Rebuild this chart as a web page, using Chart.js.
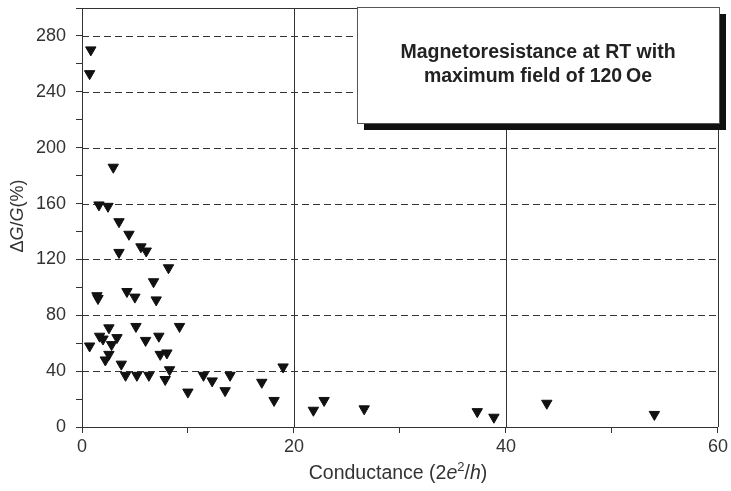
<!DOCTYPE html>
<html>
<head>
<meta charset="utf-8">
<script src="https://cdn.jsdelivr.net/npm/chart.js@4.4.1/dist/chart.umd.min.js"></script>
<style>
  html, body { margin: 0; padding: 0; background: #fff; }
  #wrap { width: 731px; height: 491px; }
</style>
</head>
<body>
<div id="wrap"><canvas id="mr-chart"></canvas></div>
<script>
// Conductance (2e^2/h) vs magnetoresistance dG/G (%)
const conductance = [
  0.83, 0.72, 2.95, 1.60, 2.45, 3.49, 4.43, 3.49, 5.56, 6.06,
  8.16, 6.75, 1.41, 1.51, 4.24, 4.99, 7.00, 9.20, 5.09, 2.54,
  1.66, 1.98, 3.30, 0.72, 2.79, 6.00, 7.25, 2.54, 2.20, 7.38,
  8.01, 3.71, 4.11, 5.18, 6.31, 8.26, 7.85, 9.99, 11.46, 12.28,
  13.97, 13.50, 16.96, 18.12, 18.97, 21.83, 22.84, 26.62, 37.29, 38.86,
  43.85, 54.0
];
const delta_g = [
  270, 253, 186, 159, 158, 147, 138, 125, 129, 126,
  114, 104, 94, 92, 97, 93, 91, 72, 72, 71,
  65, 63, 64, 58, 59, 62, 65, 52, 48, 52,
  53, 45, 37, 37, 37, 41, 34, 25, 37, 33,
  37, 26, 32, 19, 43, 12, 19, 13, 11, 7,
  17, 9
];

const x_labels = [0, 20, 40, 60];
const y_labels = [0, 40, 80, 120, 160, 200, 240, 280];
const x_grid = [20, 40];
const y_grid = [40, 80, 120, 160, 200, 240, 280];
const box_lines = ["Magnetoresistance at RT with", "maximum field of 120\u2009Oe"];

const font_family = "'Liberation Sans', Arial, sans-serif";
const ink = "#333";

// draw a run of [text, italic, superscript] pieces centred on 0,0
function drawRuns(ctx, runs, size) {
  const fontFor = r => (r[1] ? "italic " : "") + (r[2] ? Math.round(size * 0.65) : size) + "px " + font_family;
  let total = 0;
  runs.forEach(r => { ctx.font = fontFor(r); total += ctx.measureText(r[0]).width; });
  let cx = -total / 2;
  runs.forEach(r => {
    ctx.font = fontFor(r);
    ctx.fillText(r[0], cx, r[2] ? -size * 0.35 : 0);
    cx += ctx.measureText(r[0]).width;
  });
}

const frame_plugin = {
  id: "frame",
  beforeDatasetsDraw(chart) {
    const { ctx, chartArea: a, scales: { x, y } } = chart;
    ctx.save();
    ctx.strokeStyle = ink;
    ctx.lineWidth = 1;
    ctx.setLineDash([7, 4]);
    y_grid.forEach(v => {
      const py = Math.round(y.getPixelForValue(v)) + 0.5;
      ctx.beginPath(); ctx.moveTo(a.left, py); ctx.lineTo(a.right, py); ctx.stroke();
    });
    ctx.setLineDash([]);
    x_grid.forEach(v => {
      const px = Math.round(x.getPixelForValue(v)) + 0.5;
      ctx.beginPath(); ctx.moveTo(px, a.top); ctx.lineTo(px, a.bottom); ctx.stroke();
    });
    // top and right edges of the frame
    ctx.beginPath();
    ctx.moveTo(a.left, Math.round(a.top) + 0.5);
    ctx.lineTo(Math.round(a.right) + 0.5, Math.round(a.top) + 0.5);
    ctx.lineTo(Math.round(a.right) + 0.5, a.bottom);
    ctx.stroke();
    ctx.restore();
  },
  afterDatasetsDraw(chart) {
    const { ctx, chartArea: a } = chart;
    ctx.save();
    // annotation box with drop shadow
    const bx = a.left + 275, by = a.top - 1, bw = 362, bh = 116;
    ctx.fillStyle = "#111";
    ctx.fillRect(bx + 7, by + 7, bw, bh);
    ctx.fillStyle = "#fff";
    ctx.fillRect(bx, by, bw, bh);
    ctx.strokeStyle = "#555";
    ctx.lineWidth = 1;
    ctx.strokeRect(bx + 0.5, by + 0.5, bw, bh);
    ctx.fillStyle = "#222";
    ctx.font = "bold 19.5px " + font_family;
    ctx.textAlign = "center";
    ctx.textBaseline = "middle";
    ctx.fillText(box_lines[0], bx + 181, by + 46);
    ctx.fillText(box_lines[1], bx + 181, by + 70);

    // axis titles
    ctx.fillStyle = ink;
    ctx.textAlign = "left";
    ctx.textBaseline = "middle";
    ctx.save();
    ctx.translate(18, 216);
    ctx.rotate(-Math.PI / 2);
    drawRuns(ctx, [["\u0394", false, false], ["G", true, false], ["/", false, false], ["G", true, false], ["(%)", false, false]], 18);
    ctx.restore();
    ctx.save();
    ctx.translate(398, 474);
    drawRuns(ctx, [["Conductance (2", false, false], ["e", true, false], ["2", false, true], ["/", false, false], ["h", true, false], [")", false, false]], 19.5);
    ctx.restore();
    ctx.restore();
  }
};

const points = conductance.map((c, i) => ({ x: c, y: delta_g[i] }));

new Chart(document.getElementById("mr-chart"), {
  type: "scatter",
  data: {
    datasets: [{
      data: points,
      pointStyle: "triangle",
      rotation: 180,
      radius: 6,
      hoverRadius: 6,
      backgroundColor: "#111",
      borderColor: "#111",
      borderWidth: 1
    }]
  },
  options: {
    responsive: true,
    maintainAspectRatio: false,
    animation: false,
    layout: { padding: { top: 8, right: 12, left: 0, bottom: 0 } },
    plugins: {
      legend: { display: false },
      tooltip: { enabled: false }
    },
    scales: {
      x: {
        type: "linear",
        min: 0,
        max: 60,
        afterFit: s => { s.height = 64; },
        ticks: {
          stepSize: 10,
          padding: 3,
          color: ink,
          font: { family: font_family, size: 18 },
          maxRotation: 0,
          callback: v => (x_labels.includes(v) ? v : "")
        },
        grid: { drawOnChartArea: false, drawTicks: true, tickLength: 6, tickColor: ink },
        border: { color: ink, width: 1 }
      },
      y: {
        type: "linear",
        min: 0,
        max: 300,
        afterFit: s => { s.width = 82; s.paddingTop = 0; },
        ticks: {
          stepSize: 20,
          padding: 10,
          color: ink,
          font: { family: font_family, size: 18 },
          callback: v => (y_labels.includes(v) ? v : "")
        },
        grid: { drawOnChartArea: false, drawTicks: true, tickLength: 6, tickColor: ink },
        border: { color: ink, width: 1 }
      }
    }
  },
  plugins: [frame_plugin]
});
</script>
</body>
</html>
